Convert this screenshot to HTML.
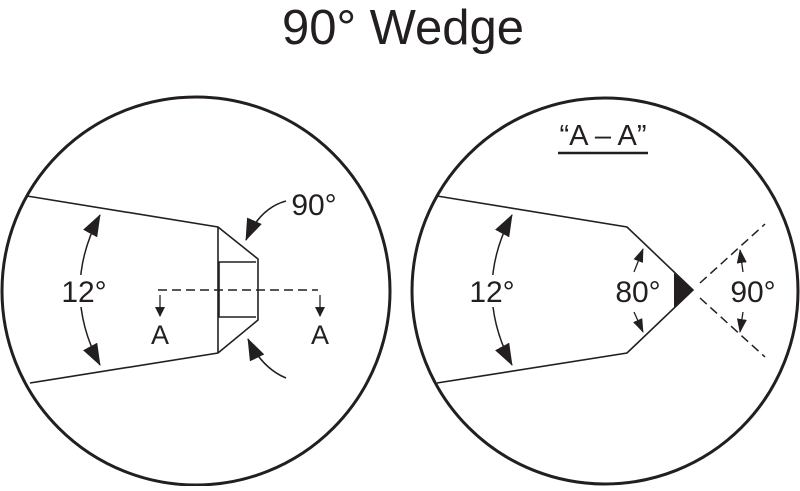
<!DOCTYPE html>
<html><head><style>html,body{margin:0;padding:0;background:#fff}</style></head>
<body>
<svg width="800" height="486" viewBox="0 0 800 486" xmlns="http://www.w3.org/2000/svg" font-family="Liberation Sans, sans-serif" fill="#231f20">
<defs>
<marker id="ah" markerWidth="10" markerHeight="10" refX="9" refY="5" orient="auto" markerUnits="userSpaceOnUse"><path d="M0,0 L10,5 L0,10 z" fill="#231f20"/></marker>
<marker id="mh" markerWidth="14" markerHeight="10" refX="13" refY="5" orient="auto" markerUnits="userSpaceOnUse"><path d="M0,0 L14,5 L0,10 z" fill="#231f20"/></marker>
<marker id="big" markerWidth="22" markerHeight="16" refX="21" refY="8" orient="auto" markerUnits="userSpaceOnUse"><path d="M0,0 L22,8 L0,16 z" fill="#231f20"/></marker>
<marker id="bigs" markerWidth="22" markerHeight="16" refX="1" refY="8" orient="auto" markerUnits="userSpaceOnUse"><path d="M22,0 L0,8 L22,16 z" fill="#231f20"/></marker>
</defs>
<text x="403" y="44" font-size="49" text-anchor="middle">90° Wedge</text>
<g fill="none" stroke="#231f20">
<circle cx="196" cy="291" r="194" stroke-width="3"/>
<circle cx="605" cy="291" r="193" stroke-width="3"/>
<!-- left -->
<polyline points="27,196 218,227 258,259 258,320 218,353 30,383" stroke-width="1.6"/>
<line x1="218" y1="227" x2="218" y2="353" stroke-width="1.6"/>
<polyline points="256,262 219,262 219,317 256,317" stroke-width="1.6"/>
<line x1="158" y1="290" x2="318" y2="290" stroke-width="1.6" stroke-dasharray="9,5"/>
<line x1="160" y1="295" x2="160" y2="316" stroke-width="1.3" marker-end="url(#ah)"/>
<line x1="320" y1="295" x2="320" y2="316" stroke-width="1.3" marker-end="url(#ah)"/>
<path d="M100,215 Q60,290 100,365" stroke-width="1.5" marker-start="url(#bigs)" marker-end="url(#big)"/>
<path d="M286,201 Q260,208 246,240" stroke-width="1.6" marker-end="url(#big)"/>
<path d="M286,378 Q262,368 248,339" stroke-width="1.6" marker-end="url(#big)"/>
<!-- right -->
<polyline points="437,196 627,227 693,290 627,353 437,383" stroke-width="1.6"/>
<line x1="700" y1="283" x2="765" y2="224" stroke-width="1.5" stroke-dasharray="9,5"/>
<line x1="700" y1="298" x2="765" y2="357" stroke-width="1.5" stroke-dasharray="9,5"/>
<path d="M512,215 Q472,290 512,365" stroke-width="1.5" marker-start="url(#bigs)" marker-end="url(#big)"/>
<line x1="634" y1="272" x2="643" y2="249" stroke-width="1.3" marker-end="url(#mh)"/>
<line x1="634" y1="312" x2="643" y2="332" stroke-width="1.3" marker-end="url(#mh)"/>
<line x1="743" y1="272" x2="740" y2="250" stroke-width="1.3" marker-end="url(#mh)"/>
<line x1="743" y1="312" x2="740" y2="332" stroke-width="1.3" marker-end="url(#mh)"/>
<line x1="558" y1="153" x2="648" y2="153" stroke-width="2.5"/>
</g>
<path d="M674,273 L693,290 L674,308 z"/>
<rect x="64" y="275" width="38" height="32" fill="#fff"/>
<rect x="473" y="275" width="38" height="32" fill="#fff"/>
<text x="84" y="302" font-size="30" text-anchor="middle">12°</text>
<text x="314" y="215" font-size="30" text-anchor="middle">90°</text>
<text x="160" y="344" font-size="27" text-anchor="middle">A</text>
<text x="320" y="344" font-size="27" text-anchor="middle">A</text>
<text x="492" y="302" font-size="30" text-anchor="middle">12°</text>
<text x="638" y="302" font-size="30" text-anchor="middle">80°</text>
<text x="753" y="302" font-size="30" text-anchor="middle">90°</text>
<text x="603" y="145" font-size="29" text-anchor="middle">“A – A”</text>
</svg>
</body></html>
